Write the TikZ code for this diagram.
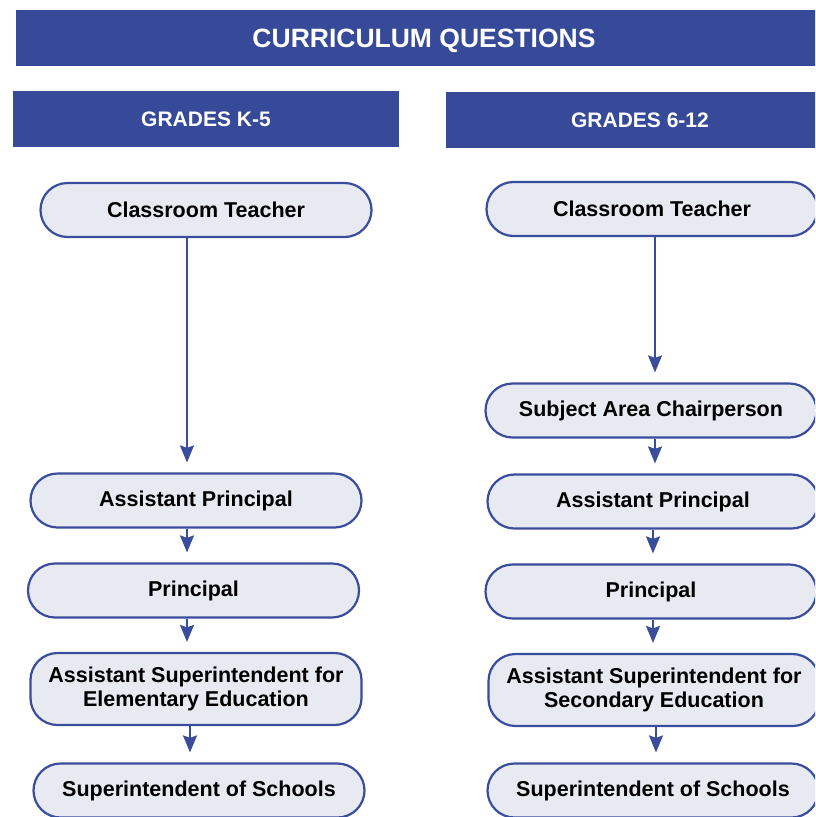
\documentclass[tikz,border=0pt]{standalone}
\usepackage{fontspec}
\setmainfont{Liberation Sans}
\usepackage{tikz}
\usepackage{xcolor}
\usetikzlibrary{arrows.meta,positioning}
\definecolor{navy}{HTML}{374A9A}
\definecolor{boxfill}{HTML}{E8EAF2}
\definecolor{boxline}{HTML}{3A4C9C}
\tikzset{
  banner/.style={fill=navy,text=white,inner sep=0pt,text height=19pt,text depth=0pt,
                 font=\fontsize{26.5}{30}\selectfont\bfseries},
  gradehead/.style={fill=navy,text=white,inner sep=0pt,minimum height=56pt,
                    text height=15pt,text depth=0pt,
                    font=\fontsize{21}{25}\selectfont\bfseries},
  rolebox/.style={draw=boxline,fill=boxfill,line width=2.2pt,
                  rounded corners=27pt,minimum width=331pt,minimum height=54pt,
                  inner sep=0pt,align=center,
                  font=\fontsize{21.5}{24}\selectfont\bfseries},
  tallbox/.style={rolebox,minimum height=72pt},
  downarr/.style={-{Stealth[length=17pt,width=14pt,inset=2.5pt]},
                  line width=2pt,draw=boxline,shorten >=10pt}
}
\begin{document}
\begin{tikzpicture}[x=1pt,y=-1pt]
    \path[use as bounding box,fill=white] (0,0) rectangle (815,817);
    \clip (0,0) rectangle (815,817);

    \node[banner,minimum width=816pt,minimum height=56pt] (title) at (424,38)
      {CURRICULUM QUESTIONS};
    \node[gradehead,minimum width=386pt] (lower) at (206,118.5) {GRADES K-5};
    \node[gradehead,minimum width=388pt] (upper) at (640,119.5) {GRADES 6-12};

    % grades K-5
    \node[rolebox] (teachA) at (206,210) {Classroom Teacher};
    \node[rolebox] (apA) at (196,500.5) {Assistant Principal};
    \node[rolebox] (prA) at (193.5,590.5) {Principal};
    \node[tallbox] (asA) at (196,689)
      {Assistant Superintendent for\\Elementary Education};
    \node[rolebox] (supA) at (199,790.5) {Superintendent of Schools};
    \draw[downarr] ([xshift=-19pt]teachA.south) -- ([xshift=-19pt]teachA.south |- apA.north);
    \draw[downarr] ([xshift=-9pt]apA.south) -- ([xshift=-9pt]apA.south |- prA.north);
    \draw[downarr] ([xshift=-6.5pt]prA.south) -- ([xshift=-6.5pt]prA.south |- asA.north);
    \draw[downarr] ([xshift=-6pt]asA.south) -- ([xshift=-6pt]asA.south |- supA.north);

    % grades 6-12
    \node[rolebox] (teachB) at (652,209) {Classroom Teacher};
    \node[rolebox] (chairB) at (651,410.5) {Subject Area Chairperson};
    \node[rolebox] (apB) at (653,501.5) {Assistant Principal};
    \node[rolebox] (prB) at (651,591.5) {Principal};
    \node[tallbox] (asB) at (654,690)
      {Assistant Superintendent for\\Secondary Education};
    \node[rolebox] (supB) at (653,790.5) {Superintendent of Schools};
    \draw[downarr] ([xshift=3pt]teachB.south) -- ([xshift=3pt]teachB.south |- chairB.north);
    \draw[downarr] ([xshift=4pt]chairB.south) -- ([xshift=4pt]chairB.south |- apB.north);
    \draw[downarr] (apB.south) -- (apB.south |- prB.north);
    \draw[downarr] ([xshift=2pt]prB.south) -- ([xshift=2pt]prB.south |- asB.north);
    \draw[downarr] ([xshift=2pt]asB.south) -- ([xshift=2pt]asB.south |- supB.north);
  \end{tikzpicture}
\end{document}
